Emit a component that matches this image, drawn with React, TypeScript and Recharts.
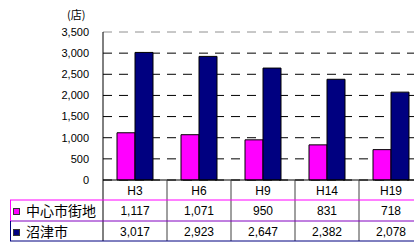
import React from 'react';
import { BarChart, Bar, XAxis, YAxis, CartesianGrid } from 'recharts';

const categories = ['H3', 'H6', 'H9', 'H14', 'H19'];
const centralValues = [1117, 1071, 950, 831, 718];
const numazuValues = [3017, 2923, 2647, 2382, 2078];
const seriesNames = ['中心市街地', '沼津市'];
const yTicks = [0, 500, 1000, 1500, 2000, 2500, 3000, 3500];
const unitLabel = '(店)';

const PINK = '#FF00FF';
const NAVY = '#000080';

const data = categories.map((c, i) => ({ name: c, central: centralValues[i], numazu: numazuValues[i] }));

const fmt = (v: number) => v.toLocaleString('en-US');

const TableTick = (props: any) => {
  const { x, y, payload, index } = props;
  const half = 32;
  const top = y;
  const r1 = top + 20;
  const r2 = top + 41;
  const r3 = top + 61;
  const font = "'Liberation Sans', Arial, sans-serif";
  const cj = "'Noto Sans CJK JP', sans-serif";
  const i = index;
  return (
    <g>
      {index === 0 && (
        <g>
          <line x1={x - half} y1={top} x2={x - half} y2={r3} stroke="#000" strokeWidth={1} />
          <line x1={10} y1={r1} x2={x - half} y2={r1} stroke={PINK} strokeWidth={1} />
          <line x1={10} y1={r2} x2={x - half} y2={r2} stroke="#8000C0" strokeWidth={1} />
          <line x1={10} y1={r3} x2={x - half} y2={r3} stroke={NAVY} strokeWidth={1} />
          <line x1={10.5} y1={r1} x2={10.5} y2={r2} stroke={PINK} strokeWidth={1} />
          <line x1={10.5} y1={r2} x2={10.5} y2={r3} stroke={NAVY} strokeWidth={1} />
          <rect x={13.5} y={r1 + 8.5} width={6} height={6} fill={PINK} stroke="#333" strokeWidth={1} />
          <rect x={13.5} y={r2 + 8.5} width={6} height={6} fill={NAVY} stroke="#333" strokeWidth={1} />
          <text x={26} y={r1 + 16} fontSize={14} fontFamily={cj} fill="#000">{seriesNames[0]}</text>
          <text x={26} y={r2 + 16} fontSize={14} fontFamily={cj} fill="#000">{seriesNames[1]}</text>
        </g>
      )}
      <line x1={x + half} y1={top} x2={x + half} y2={r3} stroke="#404040" strokeWidth={1} />
      <line x1={x - half} y1={r1} x2={x + half} y2={r1} stroke={PINK} strokeWidth={1} />
      <line x1={x - half} y1={r2} x2={x + half} y2={r2} stroke="#8000C0" strokeWidth={1} />
      <line x1={x - half} y1={r3} x2={x + half} y2={r3} stroke={NAVY} strokeWidth={1} />
      <text x={x} y={top + 15} textAnchor="middle" fontSize={12} fontFamily={font} fill="#000">{payload.value}</text>
      <text x={x} y={r1 + 15} textAnchor="middle" fontSize={12} fontFamily={font} fill="#000">{fmt(centralValues[i])}</text>
      <text x={x} y={r2 + 15} textAnchor="middle" fontSize={12} fontFamily={font} fill="#000">{fmt(numazuValues[i])}</text>
    </g>
  );
};

const gridLine = (p: any) => (
  <line
    key={`h-${p.index}-${p.y1}`}
    x1={p.x1}
    y1={p.y1}
    x2={p.x2}
    y2={p.y2}
    stroke={p.y1 < 40 ? '#909090' : '#000'}
    strokeWidth={1}
    strokeDasharray="9 7"
  />
);

export default function App() {
  return (
    <div style={{ position: 'absolute', left: 0, top: 0, width: 414, height: 244, overflow: 'hidden', background: '#fff' }}>
      <div style={{ position: 'absolute', left: 67, top: 7, fontSize: 11, fontFamily: "'Noto Sans CJK JP', sans-serif", lineHeight: '14px' }}>{unitLabel}</div>
      <BarChart
        width={424}
        height={244}
        data={data}
        margin={{ top: 32, right: 1, bottom: 0, left: 0 }}
        barGap={0}
        barCategoryGap={14}
      >
        <CartesianGrid vertical={false} horizontal={gridLine} />
        <YAxis
          width={103}
          domain={[0, 3500]}
          ticks={yTicks}
          interval={0}
          tickLine={false}
          tickMargin={8}
          axisLine={{ stroke: '#000' }}
          tickFormatter={fmt}
          tick={{ fontSize: 11, fill: '#000', fontFamily: "'Liberation Sans', Arial, sans-serif" }}
        />
        <XAxis
          dataKey="name"
          height={64}
          interval={0}
          tickLine={false}
          tickSize={0}
          tickMargin={0}
          axisLine={{ stroke: '#000' }}
          tick={<TableTick />}
        />
        <Bar dataKey="central" name={seriesNames[0]} fill={PINK} stroke="#000" strokeWidth={1} barSize={18} isAnimationActive={false} />
        <Bar dataKey="numazu" name={seriesNames[1]} fill={NAVY} stroke="#000" strokeWidth={1} barSize={18} isAnimationActive={false} />
      </BarChart>
    </div>
  );
}
